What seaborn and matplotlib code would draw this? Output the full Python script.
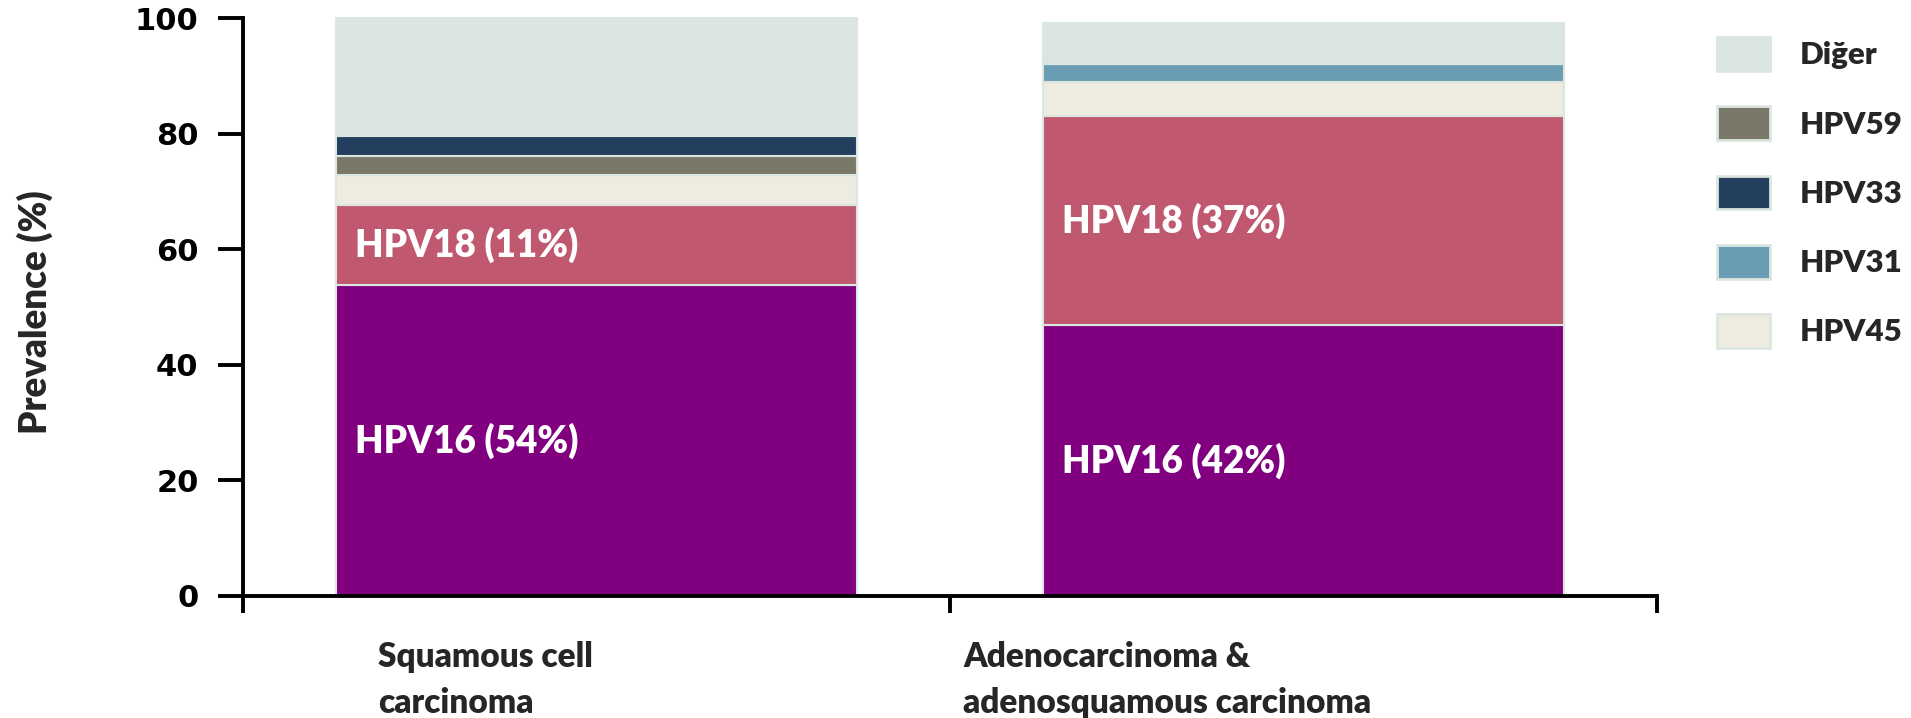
import matplotlib
matplotlib.use("Agg")
import matplotlib.pyplot as plt
from matplotlib.patches import Patch
import numpy as np
import seaborn as sns

# --- data -------------------------------------------------------------
categories = ["Squamous cell\ncarcinoma", "Adenocarcinoma &\nadenosquamous carcinoma"]
types = ["HPV16", "HPV18", "HPV45", "HPV31", "HPV59", "HPV33", "Diğer"]
squamous = [53.8, 13.8, 5.3, 0.0, 3.3, 3.5, 20.3]
adeno = [46.8, 36.3, 5.9, 3.1, 0.0, 0.0, 7.1]
# percentages printed inside the two largest segments
inbar_labels = {
    "HPV16": ["HPV16 (54%)", "HPV16 (42%)"],
    "HPV18": ["HPV18 (11%)", "HPV18 (37%)"],
}
legend_order = ["Diğer", "HPV59", "HPV33", "HPV31", "HPV45"]
yticks = [0, 20, 40, 60, 80, 100]

colors = {
    "HPV16": "#800080",
    "HPV18": "#c0586f",
    "HPV45": "#eeebe0",
    "HPV31": "#6a9db3",
    "HPV59": "#7a7868",
    "HPV33": "#243f5e",
    "Diğer": "#dce6e0",
}
edge = "#dce6e0"
heavy = 800

sns.set_style("white")
plt.rcParams["font.family"] = ["Lato", "DejaVu Sans"]

W, H = 1911, 718
fig = plt.figure(figsize=(W / 100, H / 100), dpi=100)
ax = fig.add_axes([243 / W, 1 - 595.7 / H, (1657 - 243) / W, (595.7 - 18.3) / H])

values = np.array([squamous, adeno])  # rows: categories, cols: types
bar_w = 0.737
bottom = np.zeros(len(categories))
x_idx = [0, 1]
for j, t in enumerate(types):
    vals = values[:, j]
    sns.barplot(x=x_idx, y=vals, bottom=bottom, color=colors[t], saturation=1,
                width=bar_w, edgecolor=edge, linewidth=1.5, ax=ax, clip_on=False,
                err_kws={"linewidth": 0}, order=x_idx)
    if t in inbar_labels:
        for i in range(len(categories)):
            mid = bottom[i] + vals[i] / 2
            ax.annotate(inbar_labels[t][i], xy=(i - bar_w / 2, mid), xytext=(14, 0),
                        textcoords="offset points", ha="left", va="center",
                        color="white", fontsize=26.5, fontweight=heavy, family="Lato")
    bottom = bottom + vals

ax.set_xlim(-0.5, 1.5)
ax.set_ylim(0, 100)
ax.set_yticks(yticks)
ax.set_yticklabels([str(v) for v in yticks], fontsize=22, fontweight="bold",
                   family="DejaVu Sans")
ax.set_xticks([-0.5, 0.5, 1.5])
ax.set_xticklabels(["", "", ""])
ax.set_xlabel("")
ax.set_ylabel("")

for s in ["top", "right"]:
    ax.spines[s].set_visible(False)
for s in ["left", "bottom"]:
    ax.spines[s].set_linewidth(2.8)
    ax.spines[s].set_color("black")
ax.tick_params(axis="y", left=True, direction="out", length=18, width=2.8, pad=14,
               colors="black")
ax.tick_params(axis="x", bottom=True, direction="out", length=12, width=2.8,
               colors="black")

# category names under the axis
cat_x = [378, 963]
for cx, name in zip(cat_x, categories):
    fig.text(cx / W, 1 - 641 / H, name, ha="left", va="top", fontsize=24,
             fontweight=heavy, family="Lato", linespacing=1.55)

fig.text(35 / W, 1 - 312 / H, "Prevalence (%)", rotation=90, ha="center", va="center",
         fontsize=26.5, fontweight=heavy, family="Lato")

handles = [Patch(facecolor=colors[t], edgecolor=edge, linewidth=2) for t in legend_order]
ax.legend(handles, legend_order, loc="upper left", bbox_to_anchor=(1717 / W, 1 - 37 / H),
          bbox_transform=fig.transFigure, frameon=False,
          prop=dict(family="Lato", weight=heavy, size=22.5),
          handlelength=1.7, handleheight=1.28, handletextpad=0.96,
          labelspacing=1.14, borderpad=0, borderaxespad=0)

fig.savefig("out.png", dpi=100)
